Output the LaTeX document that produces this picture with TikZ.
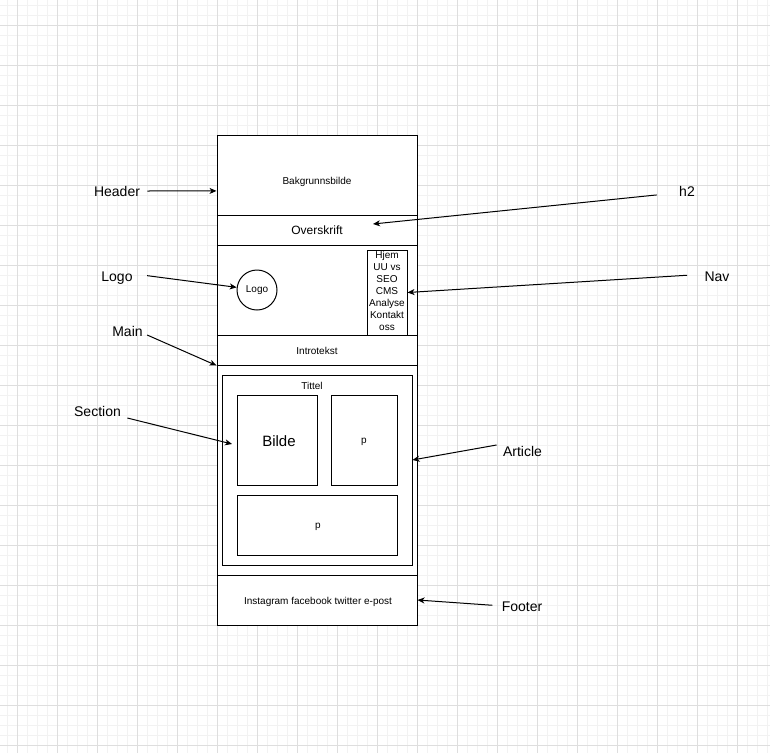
\documentclass[tikz,border=0pt]{standalone}
\usepackage{fontspec}
\setmainfont{Liberation Sans}
\usetikzlibrary{arrows.meta}

\begin{document}
\begin{tikzpicture}[x=1pt,y=-1pt,>={Stealth[length=7pt,width=6pt,inset=2pt]},line width=1pt,
  box/.style 2 args={draw,fill=white,rectangle,inner sep=0pt,minimum width=#1,minimum height=#2},
  txt/.style={inner sep=0pt,anchor=base,font=\fontsize{10}{12}\selectfont},
  lbl/.style={inner sep=0pt,anchor=base,font=\fontsize{14}{17}\selectfont},
  arr/.style={->,black},
  minorline/.style={black!5,line width=1pt},
  majorline/.style={black!13,line width=1pt}]
  \useasboundingbox (0,0) rectangle (770,753);
  \fill[white] (0,0) rectangle (770,753);
  \foreach \i in {7,17,...,767} \draw[minorline] (\i,0) -- (\i,753);
  \foreach \j in {5,15,...,745} \draw[minorline] (0,\j) -- (770,\j);
  \foreach \i in {17,57,...,737} \draw[majorline] (\i,0) -- (\i,753);
  \foreach \j in {25,65,...,745} \draw[majorline] (0,\j) -- (770,\j);

  \node[box={200pt}{80pt}] (hdr) at (317,175) {};
  \node[box={200pt}{30pt}] (hband) at (317,230) {};
  \node[box={200pt}{90pt}] (navarea) at (317,290) {};
  \node[box={200pt}{30pt}] (intro) at (317,350) {};
  \node[box={200pt}{210pt}] (mainbox) at (317,470) {};
  \node[box={200pt}{50pt}] (ftr) at (317,600) {};
  \node[box={190pt}{190pt}] (art) at (317,470) {};
  \node[box={80pt}{90pt}] (bilde) at (277,440) {};
  \node[box={66pt}{90pt}] (pbox) at (364,440) {};
  \node[box={160pt}{60pt}] (pwide) at (317,525) {};
  \node[box={40pt}{85pt}] (navbox) at (387,292.5) {};
  \node[draw,fill=white,circle,inner sep=0pt,minimum size=40pt,font=\fontsize{10}{12}\selectfont] (logo) at (257,290) {Logo};

  \node[txt] (bgtxt) at (317,184) {Bakgrunnsbilde};
  \node[txt,font=\fontsize{12}{14}\selectfont] (ovtxt) at (317,234) {Overskrift};
  \node[txt,anchor=center,align=center,font=\fontsize{10}{11.9}\selectfont] (navtxt) at (387,291)
    {Hjem\\UU vs\\SEO\\CMS\\Analyse\\Kontakt\\oss};
  \node[txt] (introtxt) at (317,354) {Introtekst};
  \node[txt] (tittel) at (312,389) {Tittel};
  \node[txt,font=\fontsize{15}{18}\selectfont] (bildetxt) at (279,446) {Bilde};
  \node[txt] (ptxt) at (364,443.7) {p};
  \node[txt] (pwidetxt) at (318,528.7) {p};
  \node[txt] (ftrtxt) at (318,604) {Instagram facebook twitter e-post};

  \node[lbl] (hdrlab) at (117,196) {Header};
  \node[lbl] (lgolab) at (117,281) {Logo};
  \node[lbl] (mainlab) at (127.5,336) {Main};
  \node[lbl] (seclab) at (97.5,416) {Section};
  \node[lbl] (h2lab) at (687,196) {h2};
  \node[lbl] (navlab) at (717,281) {Nav};
  \node[lbl] (artlab) at (522.5,456) {Article};
  \node[lbl] (ftrlab) at (522,611) {Footer};

  \coordinate (h2tip) at (373,224);
  \coordinate (sectip) at (232,444);

  \draw[arr] (hdrlab.east) ++(7,0) -- (hdr.189);
  \draw[arr] (h2lab.west) ++(-22,4) -- (h2tip);
  \draw[arr] (lgolab.east) ++(14,-2) -- (logo);
  \draw[arr] (navlab.west) ++(-17,-1) -- (navbox.east);
  \draw[arr] (mainlab.east) ++(4,4) -- (intro.south west);
  \draw[arr] (seclab.east) ++(6,7) -- (sectip);
  \draw[arr] (artlab.west) ++(-6,-6) -- (art.6);
  \draw[arr] (ftrlab.west) ++(-9,-1) -- (ftr.east);
\end{tikzpicture}
\end{document}
